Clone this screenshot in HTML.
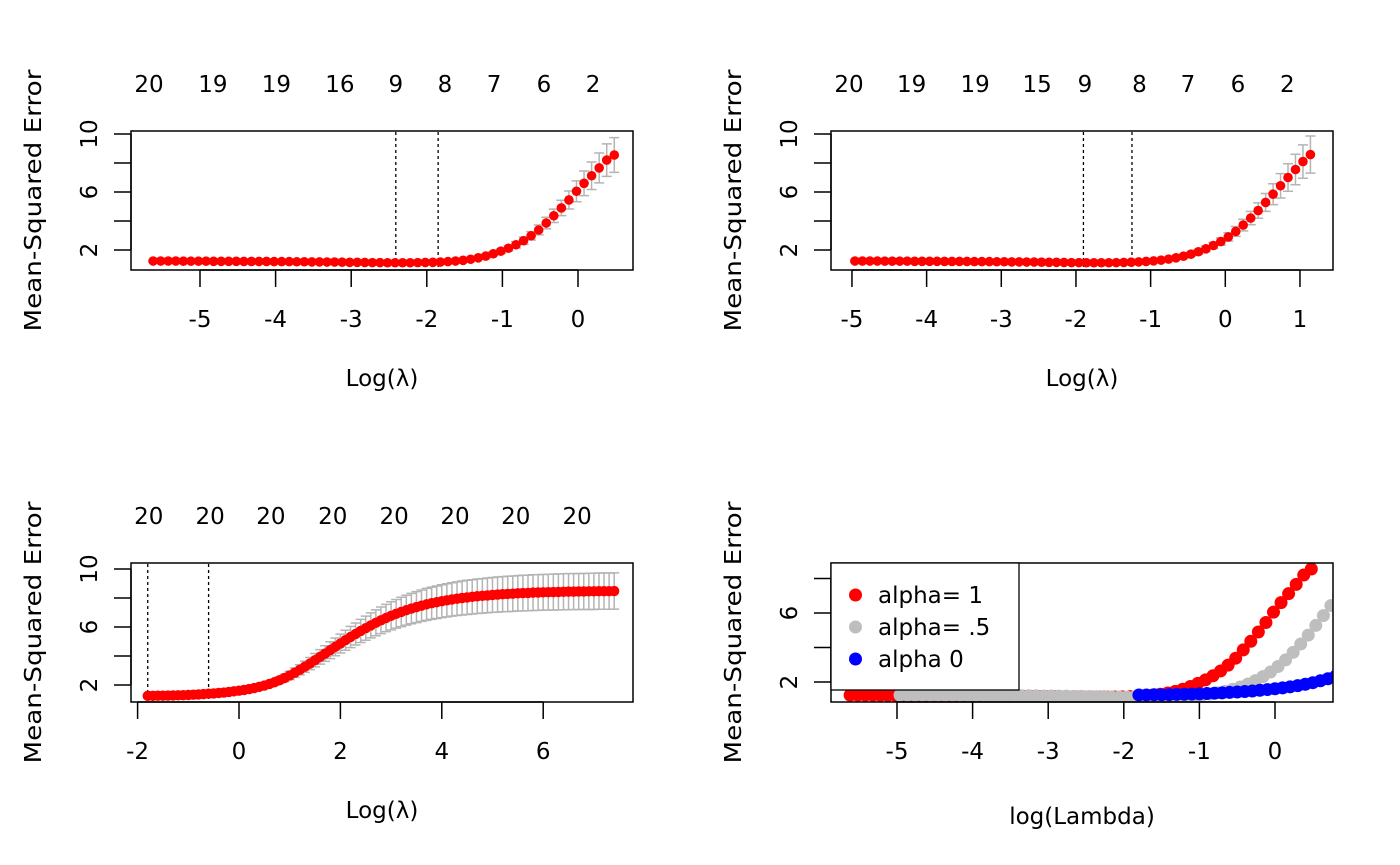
<!DOCTYPE html>
<html><head><meta charset="utf-8"><style>
html,body{margin:0;padding:0;background:#fff;}
svg{display:block;font-family:"DejaVu Sans","Liberation Sans",sans-serif;}
</style></head><body>
<svg id="chart" width="1400" height="865" viewBox="0 0 1400 865" xmlns="http://www.w3.org/2000/svg"></svg>
<script>
// ---- data ----
const p1Start = -5.62, p1Step = 0.1;
const p1Mse = [1.24,1.24,1.24,1.24,1.23,1.23,1.23,1.23,1.22,1.22,1.22,1.22,1.21,1.21,1.21,1.21,1.20,1.20,1.20,1.19,
1.19,1.18,1.18,1.17,1.17,1.16,1.15,1.15,1.14,1.13,1.13,1.12,
1.12,1.12,1.12,1.13,1.14,1.15,1.17,1.20,1.24,1.29,
1.36,1.46,1.58,1.74,1.92,2.12,2.36,2.64,2.98,3.38,3.86,4.36,4.90,5.45,6.05,6.60,7.12,7.66,8.20,8.55];
const p1Se = [0.06,0.06,0.06,0.06,0.06,0.06,0.06,0.06,0.06,0.06,0.06,0.06,0.06,0.06,0.06,0.06,0.06,0.06,0.06,0.06,
0.06,0.06,0.06,0.06,0.05,0.05,0.05,0.05,0.05,0.05,0.05,0.05,
0.05,0.05,0.05,0.05,0.06,0.06,0.06,0.07,0.07,0.08,
0.09,0.10,0.12,0.14,0.16,0.19,0.22,0.25,0.29,0.34,0.40,0.46,0.53,0.62,0.72,0.85,0.95,1.03,1.12,1.20,1.28].slice(0,62);
const p1Lines = [-2.41, -1.85];
const p1TopPos = [-5.675,-4.83,-3.99,-3.15,-2.41,-1.76,-1.11,-0.45,0.20];
const p1TopLab = ["20","19","19","16","9","8","7","6","2"];

const p2Start = -4.96, p2Step = 0.1;
const p2Mse = [1.24,1.24,1.24,1.24,1.23,1.23,1.23,1.23,1.22,1.22,1.22,1.22,1.21,1.21,1.21,1.21,1.20,1.20,1.20,1.19,
1.19,1.18,1.18,1.17,1.17,1.16,1.15,1.15,1.14,1.13,1.13,1.12,
1.12,1.12,1.12,1.13,1.14,1.16,1.18,1.21,1.25,1.30,
1.37,1.46,1.57,1.71,1.88,2.08,2.31,2.58,2.90,3.28,3.72,4.20,4.72,5.28,5.85,6.43,7.00,7.55,8.10,8.58];
const p2Se = [0.06,0.06,0.06,0.06,0.06,0.06,0.06,0.06,0.06,0.06,0.06,0.06,0.06,0.06,0.06,0.06,0.06,0.06,0.06,0.06,
0.06,0.06,0.06,0.06,0.05,0.05,0.05,0.05,0.05,0.05,0.05,0.05,
0.05,0.05,0.05,0.05,0.06,0.06,0.06,0.07,0.07,0.08,
0.09,0.10,0.12,0.14,0.16,0.19,0.22,0.25,0.29,0.34,0.40,0.46,0.53,0.62,0.72,0.84,0.95,1.05,1.15,1.28];
const p2Lines = [-1.9, -1.25];
const p2TopPos = [-5.04,-4.2,-3.35,-2.52,-1.88,-1.15,-0.5,0.17,0.83];
const p2TopLab = ["20","19","19","15","9","8","7","6","2"];

const p3Start = -1.8, p3Step = 0.1;
const p3Mse = [1.25,1.25,1.26,1.26,1.27,1.28,1.29,1.30,1.31,1.33,1.35,1.37,1.40,1.42,1.45,1.48,1.52,1.56,1.61,1.66,
1.72,1.79,1.87,1.96,2.07,2.19,2.33,2.49,2.66,2.85,3.05,3.26,3.48,3.71,3.94,4.17,4.40,4.63,4.86,5.09,
5.31,5.52,5.73,5.92,6.11,6.29,6.46,6.62,6.77,6.91,7.04,7.16,7.27,7.37,7.47,7.56,7.64,7.71,7.78,7.84,
7.90,7.95,8.00,8.04,8.08,8.12,8.15,8.18,8.21,8.24,8.26,8.28,8.30,8.32,8.34,8.35,8.37,8.38,8.39,8.40,
8.41,8.42,8.43,8.44,8.44,8.45,8.45,8.46,8.46,8.47,8.47,8.47,8.48];
const p3Se = [0.06,0.06,0.06,0.06,0.06,0.06,0.06,0.06,0.07,0.07,0.07,0.08,0.08,0.08,0.09,0.09,0.10,0.11,0.12,0.12,
0.13,0.15,0.16,0.17,0.19,0.21,0.23,0.26,0.29,0.32,0.35,0.39,0.42,0.46,0.50,0.54,0.58,0.61,0.65,0.69,
0.73,0.76,0.80,0.83,0.86,0.89,0.92,0.94,0.97,0.99,1.01,1.03,1.05,1.07,1.08,1.10,1.11,1.12,1.13,1.14,
1.15,1.16,1.17,1.18,1.18,1.19,1.19,1.20,1.20,1.21,1.21,1.22,1.22,1.22,1.23,1.23,1.23,1.23,1.23,1.24,
1.24,1.24,1.24,1.24,1.24,1.24,1.24,1.25,1.25,1.25,1.25,1.25,1.25];
const p3Lines = [-1.8, -0.6];
const p3TopPos = [-1.78,-0.57,0.63,1.85,3.06,4.26,5.46,6.67];
const p3TopLab = ["20","20","20","20","20","20","20","20"];

const legendLabels = ["alpha= 1","alpha= .5","alpha 0"];
const legendColors = ["#ff0000","#bebebe","#0000ff"];

// ---- drawing ----
const NS = "http://www.w3.org/2000/svg";
const svg = document.getElementById("chart");
const FS = 23;
function mk(tag, attrs, parent, text){
  const e = document.createElementNS(NS, tag);
  for (const k in attrs) e.setAttribute(k, attrs[k]);
  if (text !== undefined) e.textContent = text;
  (parent || svg).appendChild(e);
  return e;
}
function grid(start, step, n){ const a=[]; for(let i=0;i<n;i++) a.push(start+step*i); return a; }

function panel(cfg){
  const g = mk("g", {});
  
  
  const X = v => cfg.x0 + cfg.xs*v;
  const Y = v => cfg.y0 - cfg.ys*v;
  const clipId = cfg.name + "-clip";
  const defs = mk("defs", {}, g);
  const cp = mk("clipPath", {id: clipId}, defs);
  mk("rect", {x:cfg.L, y:cfg.T, width:cfg.R-cfg.L, height:cfg.B-cfg.T}, cp);
  const plot = mk("g", {"clip-path":"url(#"+clipId+")"}, g);
  
  
  cfg.draw(plot, X, Y);
  const box = mk("rect", {x:cfg.L, y:cfg.T, width:cfg.R-cfg.L, height:cfg.B-cfg.T, fill:"none", stroke:"#000", "stroke-width":1.5}, g);
  
  
  const xa = mk("g", {}, g);
  
  
  mk("line", {x1:X(cfg.xt[0]), x2:X(cfg.xt[cfg.xt.length-1]), y1:cfg.B, y2:cfg.B, stroke:"#000", "stroke-width":1.5}, xa);
  cfg.xt.forEach(t=>{
    mk("line", {x1:X(t), x2:X(t), y1:cfg.B, y2:cfg.B+17, stroke:"#000", "stroke-width":1.5}, xa);
    const tl = mk("text", {x:X(t), y:cfg.B+57, "text-anchor":"middle", "font-size":FS}, xa, String(t));
    
    
  });
  const ya = mk("g", {}, g);
  
  
  mk("line", {x1:cfg.L, x2:cfg.L, y1:Y(cfg.yt[0]), y2:Y(cfg.yt[cfg.yt.length-1]), stroke:"#000", "stroke-width":1.5}, ya);
  cfg.yt.forEach(t=>{
    mk("line", {x1:cfg.L-17, x2:cfg.L, y1:Y(t), y2:Y(t), stroke:"#000", "stroke-width":1.5}, ya);
    if (cfg.ylab.includes(t)) {
      const tl = mk("text", {x:0, y:0, "text-anchor":"middle", "font-size":FS, transform:"translate("+(cfg.L-34)+","+Y(t)+") rotate(-90)"}, ya, String(t));
      
      
    }
  });
  const yt = mk("text", {x:0, y:0, "text-anchor":"middle", "font-size":FS, textLength:262, lengthAdjust:"spacingAndGlyphs", transform:"translate("+(cfg.L-90)+","+((cfg.T+cfg.B)/2)+") rotate(-90)"}, g, "Mean-Squared Error");
  
  
  const xt = mk("text", {x:(cfg.L+cfg.R)/2, y:cfg.xtitleY, "text-anchor":"middle", "font-size":FS}, g, cfg.xtitle);
  
  
  if (cfg.topPos) {
    cfg.topPos.forEach((p,i)=>{
      const t = mk("text", {x:X(p), y:cfg.T-39, "text-anchor":"middle", "font-size":FS}, g, cfg.topLab[i]);
      
      
    });
  }
  return {g, X, Y};
}

function cvDraw(xs, mse, se, lines, r){
  return (plot, X, Y) => {
    lines.forEach(l=>{
      const ln = mk("line", {x1:X(l), x2:X(l), y1:0, y2:865, stroke:"#000", "stroke-width":1.3, "stroke-dasharray":"3,3"}, plot);
      
      
    });
    xs.forEach((x,i)=>{
      const up = Y(mse[i]+se[i]), lo = Y(mse[i]-se[i]);
      const eb = mk("path", {d:"M"+X(x)+","+up+"V"+lo+"M"+(X(x)-5)+","+up+"h10M"+(X(x)-5)+","+lo+"h10", stroke:"#b4b4b4", "stroke-width":1.5, fill:"none"}, plot);
      
      
    });
    xs.forEach((x,i)=>{
      const c = mk("circle", {cx:X(x), cy:Y(mse[i]), r:r, fill:"#ff0000"}, plot);
      
      
    });
  };
}

const x1 = grid(p1Start, p1Step, p1Mse.length);
const x2 = grid(p2Start, p2Step, p2Mse.length);
const x3 = grid(p3Start, p3Step, p3Mse.length);

panel({name:"panel-lasso", L:131, R:633, T:131, B:270, x0:578, xs:75.6, y0:279, ys:14.5,
  xt:[-5,-4,-3,-2,-1,0], yt:[2,4,6,8,10], ylab:[2,6,10], xtitle:"Log(λ)", xtitleY:386,
  topPos:p1TopPos, topLab:p1TopLab, draw:cvDraw(x1,p1Mse,p1Se,p1Lines,4.8)});
panel({name:"panel-elastic-net", L:831, R:1333, T:131, B:270, x0:1225.3, xs:74.67, y0:279, ys:14.5,
  xt:[-5,-4,-3,-2,-1,0,1], yt:[2,4,6,8,10], ylab:[2,6,10], xtitle:"Log(λ)", xtitleY:386,
  topPos:p2TopPos, topLab:p2TopLab, draw:cvDraw(x2,p2Mse,p2Se,p2Lines,4.8)});
panel({name:"panel-ridge", L:131, R:633, T:563, B:702, x0:239, xs:50.7, y0:714, ys:14.5,
  xt:[-2,0,2,4,6], yt:[2,4,6,8,10], ylab:[2,6,10], xtitle:"Log(λ)", xtitleY:818,
  topPos:p3TopPos, topLab:p3TopLab, draw:cvDraw(x3,p3Mse,p3Se,p3Lines,5.2)});

const p4 = panel({name:"panel-comparison", L:831, R:1333, T:563, B:702, x0:1275, xs:75.6, y0:716.5, ys:17.25,
  xt:[-5,-4,-3,-2,-1,0], yt:[2,4,6,8], ylab:[2,6], xtitle:"log(Lambda)", xtitleY:824,
  draw:(plot,X,Y)=>{
    [[x1,p1Mse,legendColors[0]],[x2,p2Mse,legendColors[1]],[x3,p3Mse,legendColors[2]]].forEach(s=>{
      s[0].forEach((x,i)=>{
        const c = mk("circle", {cx:X(x), cy:Y(s[1][i]), r:6.5, fill:s[2]}, plot);
        
        
      });
    });
  }});
const lg = mk("g", {}, p4.g);


mk("rect", {x:831, y:563, width:188, height:127, fill:"#fff", stroke:"#000", "stroke-width":1.3}, lg);
legendLabels.forEach((lab,i)=>{
  const y = 595 + i*32;
  const d = mk("circle", {cx:855.5, cy:y, r:6.5, fill:legendColors[i]}, lg);
  
  
  const t = mk("text", {x:878, y:y+8, "font-size":FS}, lg, lab);
  
  
});
</script>
</body></html>
